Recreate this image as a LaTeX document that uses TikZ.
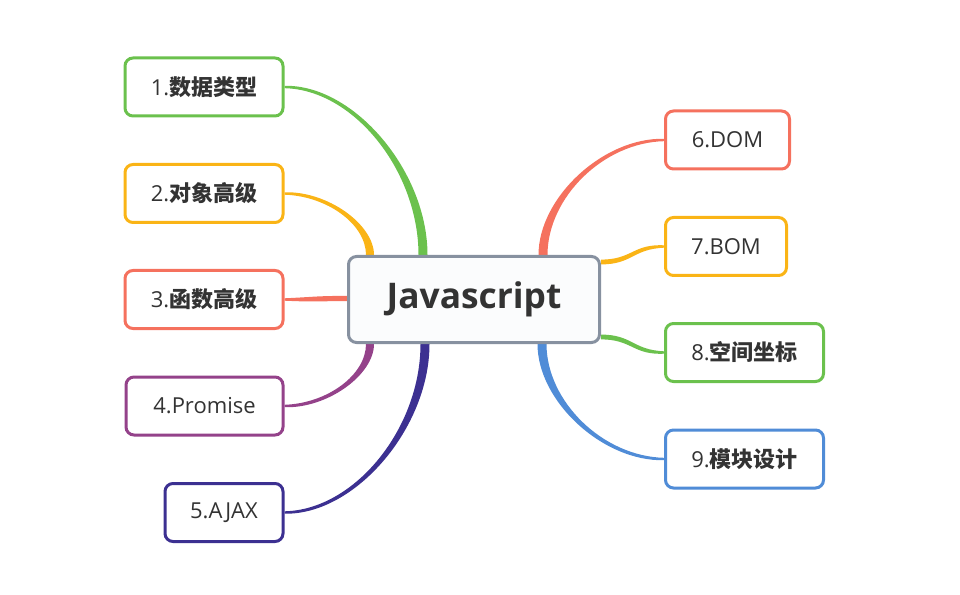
\documentclass[tikz,border=0pt]{standalone}
\usepackage{fontspec}
\setmainfont{Open Sans}
\newfontfamily\cjk{Noto Sans CJK SC}
\usetikzlibrary{calc,backgrounds}
\definecolor{cgreen}{RGB}{107,193,77}
\definecolor{cyellow}{RGB}{250,180,22}
\definecolor{csalmon}{RGB}{245,113,94}
\definecolor{cpurple}{RGB}{148,66,138}
\definecolor{cnavy}{RGB}{60,48,145}
\definecolor{cblue}{RGB}{80,140,215}
\definecolor{cgray}{RGB}{135,145,160}
\definecolor{tgray}{RGB}{51,51,51}
\definecolor{rootfill}{RGB}{251,252,253}
\tikzset{topic/.style={rectangle,rounded corners=6pt,draw,line width=2.25pt,fill=white,minimum height=43.5pt,inner sep=0pt,text=tgray,font=\fontsize{16.5}{20}\selectfont}}
\tikzset{root/.style={topic,draw=cgray,fill=rootfill,minimum width=188.25pt,minimum height=64.5pt,font=\fontsize{26.5}{32}\selectfont\bfseries}}
% tapered branch: colour, start, end, half width at start, corner point for first control
\newcommand{\branchline}[5]{\fill[#1] ($(#2)+#4$) .. controls ($(#2)!0.5!(#5)+#4$) and ($(#3)!0.5!(#2|-#3)+(0,2.6)$) .. ($(#3)+(0,1.2)$) -- ($(#3)-(0,1.2)$) .. controls ($(#3)!0.5!(#2|-#3)-(0,2.6)$) and ($(#2)!0.5!(#5)-#4$) .. ($(#2)-#4$) -- cycle;}

\begin{document}
\begin{tikzpicture}[x=0.75pt,y=-0.75pt]
    \useasboundingbox (0,0) rectangle (960,595);
    \node[root] (js) at (474,299.5) {Javascript};

    \node[topic,draw=cgreen,minimum width=118.5pt] (n1) at (204,87) {1.{\cjk\bfseries 数据类型}};
    \node[topic,draw=cyellow,minimum width=118.5pt] (n2) at (204,193.5) {2.{\cjk\bfseries 对象高级}};
    \node[topic,draw=csalmon,minimum width=118.5pt] (n3) at (204,299.5) {3.{\cjk\bfseries 函数高级}};
    \node[topic,draw=cpurple,minimum width=117.75pt] (n4) at (204.5,406) {4.Promise};
    \node[topic,draw=cnavy,minimum width=88.5pt] (n5) at (224,512.5) {5.AJAX};

    \node[topic,draw=csalmon,minimum width=93pt] (n6) at (727.5,140) {6.DOM};
    \node[topic,draw=cyellow,minimum width=90.75pt] (n7) at (726,246.5) {7.BOM};
    \node[topic,draw=cgreen,minimum width=118.5pt] (n8) at (744.5,352.5) {8.{\cjk\bfseries 空间坐标}};
    \node[topic,draw=cblue,minimum width=118.5pt] (n9) at (744.5,459) {9.{\cjk\bfseries 模块设计}};

    \begin{scope}[on background layer]
    \coordinate (s1) at ($(js.north)+(-51,0)$);
    \coordinate (s2) at ($(js.north)+(-104,0)$);
    \coordinate (s3) at ($(js.west)+(0,-1)$);
    \coordinate (s4) at ($(js.south)+(-104,0)$);
    \coordinate (s5) at ($(js.south)+(-49,0)$);
    \coordinate (s6) at ($(js.north)+(69,0)$);
    \coordinate (s7) at ($(js.north east)+(0,7)$);
    \coordinate (s8) at ($(js.south east)+(0,-7)$);
    \coordinate (s9) at ($(js.south)+(68,0)$);

    \branchline{cgreen}{s1}{n1.east}{(-4.5,0)}{s1|-n1.east}
    \branchline{cyellow}{s2}{n2.east}{(-4,0)}{s2|-n2.east}
    \branchline{csalmon}{s3}{n3.east}{(0,2.6)}{n3.east|-s3}
    \branchline{cpurple}{s4}{n4.east}{(4,0)}{s4|-n4.east}
    \branchline{cnavy}{s5}{n5.east}{(4.5,0)}{s5|-n5.east}
    \branchline{csalmon}{s6}{n6.west}{(4.5,0)}{s6|-n6.west}
    \branchline{cyellow}{s7}{n7.west}{(0,2.4)}{n7.west|-s7}
    \branchline{cgreen}{s8}{n8.west}{(0,2.4)}{n8.west|-s8}
    \branchline{cblue}{s9}{n9.west}{(-4.5,0)}{s9|-n9.west}
    \end{scope}
\end{tikzpicture}
\end{document}
